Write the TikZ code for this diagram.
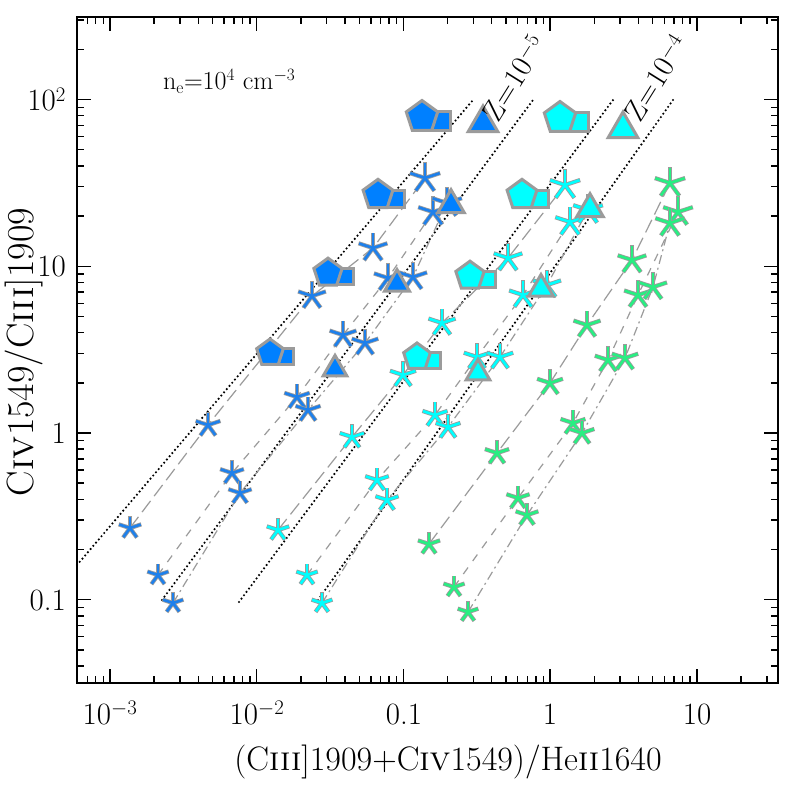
\documentclass[tikz,border=0pt]{standalone}
\usetikzlibrary{shapes.geometric}
\definecolor{cb}{RGB}{0,128,255}
\definecolor{cbs}{RGB}{30,128,235}
\definecolor{cc}{RGB}{0,255,255}
\definecolor{cg}{RGB}{40,238,130}
\definecolor{gl}{RGB}{155,155,155}
\newcommand{\Star}[3]{%
 \pgfmathsetmacro{\rr}{11+(600-#2)/420*5}%
 \foreach \a in {270,198,126,54,342}{\draw[gl,line width=4.2pt] (#1,#2) -- ++(\a:\rr);}%
 \foreach \a in {270,198,126,54,342}{\draw[#3,line width=2.6pt] (#1,#2) -- ++(\a:\rr-0.6);}%
}
\newcommand{\PS}[4]{% x y scale color
 \node[regular polygon,regular polygon sides=4,fill=#4,draw=gl,line width=3pt,minimum size=#3*26pt,inner sep=0pt] at (#1+#3*19,#2+#3*4) {};
 \node[regular polygon,regular polygon sides=5,fill=#4,draw=gl,line width=3pt,minimum size=#3*33pt,inner sep=0pt] at (#1,#2) {};
}
\newcommand{\Tri}[4]{%
 \node[regular polygon,regular polygon sides=3,fill=#4,draw=gl,line width=3pt,minimum size=#3*34pt,inner sep=0pt] at (#1,#2+2) {};
}
\tikzset{
 zline/.style={black,line width=2.4pt,line cap=round,dash pattern=on 0pt off 4.2pt},
 sa/.style={gl,line width=1.2pt,dash pattern=on 14pt off 6pt},
 sb/.style={gl,line width=1.2pt,dash pattern=on 8pt off 8pt},
 sc/.style={gl,line width=1.2pt,dash pattern=on 9pt off 4pt on 2pt off 4pt},
 zlab/.style={rotate=58,anchor=base west,inner sep=0pt},
}
\begin{document}
\begin{tikzpicture}[x=1pt,y=-1pt]
\useasboundingbox (0,0) rectangle (789,789);
\fill[white] (0,0) rectangle (789,789);
% Z lines
\draw[zline] (77,565) -- (473,100);
\draw[zline] (162,600) -- (533,100);
\draw[zline] (239,602) -- (613,100);
\draw[zline] (318,600) -- (673,100);
% series lines
\draw[sa] (130,528) -- (208,425) -- (312,296) -- (373,248) -- (425,178);
\draw[sb] (158,575) -- (232,473) -- (297,397) -- (343,335) -- (388,278) -- (433,212);
\draw[sc] (173,603) -- (240,493) -- (308,410) -- (365,343) -- (413,277) -- (447,203);
\draw[sa] (278,530) -- (352,437) -- (403,375) -- (442,323) -- (508,258) -- (565,185);
\draw[sb] (307,575) -- (377,480) -- (435,415) -- (477,357) -- (523,295) -- (570,222);
\draw[sc] (322,603) -- (387,500) -- (448,427) -- (500,357) -- (547,285) -- (588,210);
\draw[sa] (429,544) -- (497,453) -- (550,383) -- (587,325) -- (632,260) -- (670,183);
\draw[sb] (454,587) -- (518,498) -- (573,423) -- (608,360) -- (638,295) -- (678,212);
\draw[sc] (468,612) -- (527,515) -- (582,433) -- (625,358) -- (653,287) -- (670,223);
% pentagons + squares
\PS{270}{353}{0.85}{cb}\PS{328}{273}{0.9}{cb}\PS{378}{195}{0.95}{cb}\PS{422}{117}{1}{cb}
\PS{417}{357}{0.85}{cc}\PS{470}{276}{0.9}{cc}\PS{522}{195}{0.95}{cc}\PS{560}{118}{1}{cc}
% stars
\foreach \x/\y in {130/528,208/425,312/296,373/248,425/178,158/575,232/473,297/397,343/335,388/278,433/212,173/603,240/493,308/410,365/343,413/277,447/203}{\Star{\x}{\y}{cbs}}
\foreach \x/\y in {278/530,352/437,403/375,442/323,508/258,565/185,307/575,377/480,435/415,477/357,523/295,570/222,322/603,387/500,448/427,500/357,547/285,588/210}{\Star{\x}{\y}{cc}}
\foreach \x/\y in {429/544,497/453,550/383,587/325,632/260,670/183,454/587,518/498,573/423,608/360,638/295,678/212,468/612,527/515,582/433,625/358,653/287,670/223}{\Star{\x}{\y}{cg}}
% triangles
\Tri{335}{367}{0.8}{cb}\Tri{397}{282}{0.85}{cb}\Tri{451}{203}{0.9}{cb}\Tri{483}{121}{1}{cb}
\Tri{478}{371}{0.8}{cc}\Tri{541}{287}{0.85}{cc}\Tri{590}{207}{0.9}{cc}\Tri{623}{127}{1}{cc}
% labels Z
\node[zlab] at (498,124) {\fontsize{30}{33}\selectfont Z\kern1pt=\kern1pt10$^{-5}$};
\node[zlab] at (640,124) {\fontsize{30}{33}\selectfont Z\kern1pt=\kern1pt10$^{-4}$};
\node[anchor=base west,inner sep=0pt,font=\fontsize{26}{30}\selectfont] at (163,90) {n$_{\rm e}$=10$^{4}$ cm$^{-3}$};
% frame and ticks
\draw[line width=2pt] (77,17) rectangle (778,683);
\foreach \d in {-4,...,1}{
 \foreach \m in {1,...,9}{
  \pgfmathsetmacro{\px}{110+146.7*(\d+3+log10(\m))}
  \pgfmathsetmacro{\tl}{\m==1 ? 14 : 7}
  \ifdim\px pt>78pt \ifdim\px pt<777pt
   \draw[line width=1.4pt] (\px,683) -- (\px,683-\tl);
   \draw[line width=1.4pt] (\px,17) -- (\px,17+\tl);
  \fi\fi
 }}
\foreach \d in {-2,...,2}{
 \foreach \m in {1,...,9}{
  \pgfmathsetmacro{\py}{433-166.7*(\d+log10(\m))}
  \pgfmathsetmacro{\tl}{\m==1 ? 14 : 7}
  \ifdim\py pt>18pt \ifdim\py pt<682pt
   \draw[line width=1.4pt] (77,\py) -- (77+\tl,\py);
   \draw[line width=1.4pt] (778,\py) -- (778-\tl,\py);
  \fi\fi
 }}
\begin{scope}[every node/.style={font=\fontsize{31}{34}\selectfont,inner sep=0pt}]
\node[anchor=base] at (110,724) {10$^{-3}$};
\node[anchor=base] at (257,724) {10$^{-2}$};
\node[anchor=base] at (404,724) {0.1};
\node[anchor=base] at (550,724) {1};
\node[anchor=base] at (697,724) {10};
\node[anchor=east] at (66,100) {10$^{2}$};
\node[anchor=east] at (66,267) {10};
\node[anchor=east] at (66,433) {1};
\node[anchor=east] at (66,600) {0.1};
\end{scope}
\node[font=\fontsize{34}{38}\selectfont,inner sep=0pt] at (448,762) {(C\textsc{iii}]1909+C\textsc{iv}1549)/He\textsc{ii}1640};
\node[font=\fontsize{38}{42}\selectfont,inner sep=0pt,rotate=90] at (24,352) {C\textsc{iv}1549/C\textsc{iii}]1909};
\end{tikzpicture}
\end{document}
